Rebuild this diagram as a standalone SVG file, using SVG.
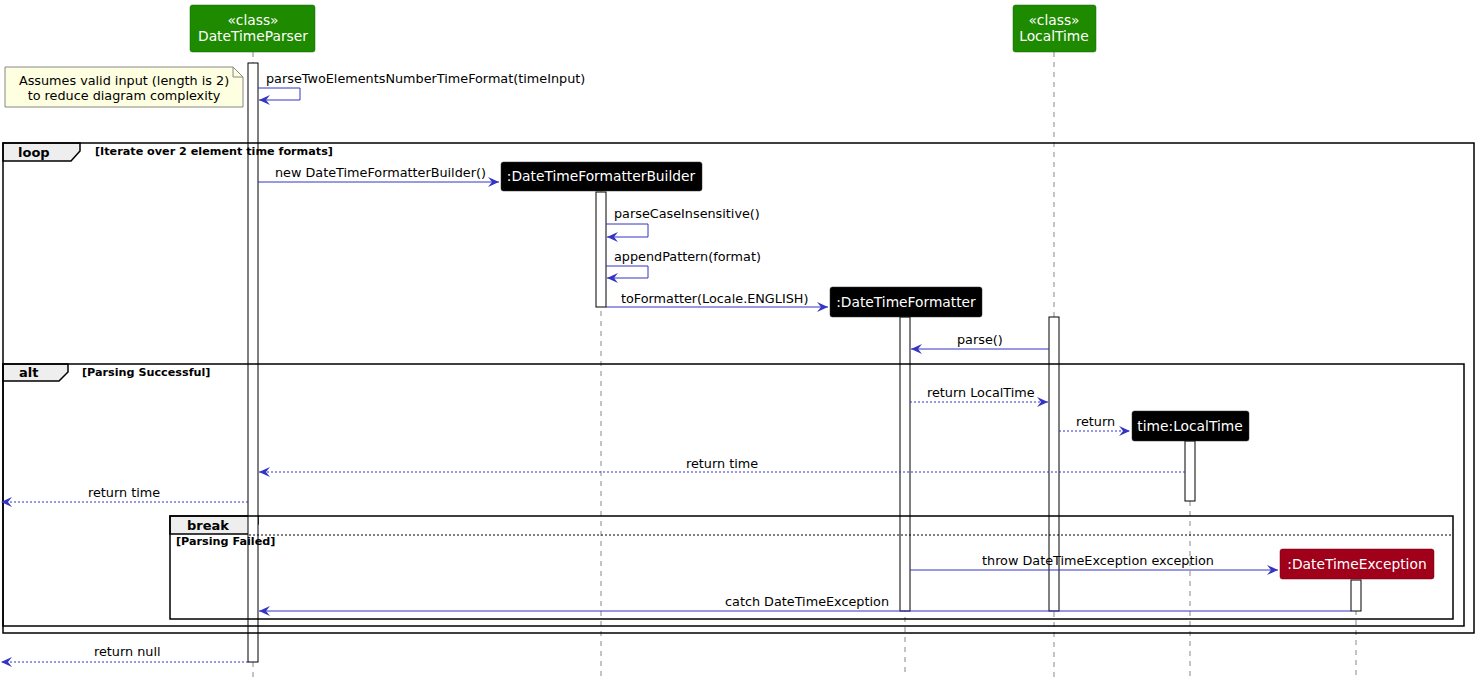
<svg xmlns="http://www.w3.org/2000/svg" width="1479" height="685" viewBox="0 0 1479 685">
<defs>
<style>
text{font-family:"DejaVu Sans","Liberation Sans",sans-serif;}
.msg{font-size:12.8px;fill:#000;}
.pt{font-size:13.8px;fill:#fff;text-anchor:middle;}
.life{stroke:#888;stroke-width:1;stroke-dasharray:5,5;fill:none;}
.act{fill:#fff;stroke:#000;stroke-width:1;}
.frame{fill:none;stroke:#000;stroke-width:1.5;}
.tab{fill:#eee;stroke:#000;stroke-width:1.5;}
.kw{font-size:13px;font-weight:bold;fill:#000;}
.guard{font-size:11.2px;font-weight:bold;fill:#000;}
.arr{stroke:#3535C5;stroke-width:1;fill:none;marker-end:url(#ah);}
.ret{stroke:#3535C5;stroke-width:1;fill:none;stroke-dasharray:2,2;marker-end:url(#ah);}
.cls{fill:#1E8A00;stroke:#156400;stroke-width:0.5;}
.obj{fill:#000;stroke:#333;stroke-width:0.5;}
.exc{fill:#A0001A;stroke:#700012;stroke-width:0.5;}
</style>
<marker id="ah" markerUnits="userSpaceOnUse" markerWidth="14" markerHeight="12" refX="11" refY="5" orient="auto" overflow="visible">
<path d="M0,0 L11,5 L0,10 L4,5 Z" fill="#3535C5"/>
</marker>
</defs>
<rect width="1479" height="685" fill="#fff"/>

<g id="lifelines">
<line class="life" x1="253" y1="52" x2="253" y2="677"/>
<line class="life" x1="601" y1="191" x2="601" y2="677"/>
<line class="life" x1="905" y1="317" x2="905" y2="677"/>
<line class="life" x1="1054" y1="52" x2="1054" y2="677"/>
<line class="life" x1="1190" y1="441" x2="1190" y2="677"/>
<line class="life" x1="1356" y1="580" x2="1356" y2="677"/>
</g>

<g id="frames-tabs">
<path class="tab" d="M3,143 H80 V151 L71,161 H3 Z"/>
<path class="tab" d="M3,364 H68 V372 L59,381 H3 Z"/>
<path class="tab" d="M170,516 H258 V524 L249,534 H170 Z"/>
</g>

<g id="activations">
<rect class="act" x="248" y="63" width="10" height="599"/>
<rect class="act" x="596" y="192" width="10" height="115"/>
<rect class="act" x="900" y="317" width="10" height="294"/>
<rect class="act" x="1049" y="317" width="10" height="294"/>
<rect class="act" x="1185" y="441" width="10" height="60"/>
<rect class="act" x="1351" y="580" width="10" height="31"/>
</g>

<g id="frames">
<rect class="frame" x="3" y="143" width="1471" height="490"/>
<text class="kw" x="18" y="157">loop</text>
<text class="guard" x="95" y="155">[Iterate over 2 element time formats]</text>
<rect class="frame" x="3" y="364" width="1461" height="262"/>
<text class="kw" x="19" y="377">alt</text>
<text class="guard" x="82" y="376">[Parsing Successful]</text>
<rect class="frame" x="170" y="516" width="1283" height="103"/>
<text class="kw" x="187" y="530">break</text>
<line x1="249" y1="535" x2="1453" y2="535" stroke="#000" stroke-width="1" stroke-dasharray="2,2"/>
<text class="guard" x="176" y="545">[Parsing Failed]</text>
</g>

<g id="DateTimeParser">
<rect class="cls" x="190" y="5" width="125" height="47" rx="2.5"/>
<text class="pt" x="253" y="25">«class»</text>
<text class="pt" x="253" y="41">DateTimeParser</text>
</g>

<g id="LocalTime">
<rect class="cls" x="1013" y="5" width="83" height="47" rx="2.5"/>
<text class="pt" x="1054" y="25">«class»</text>
<text class="pt" x="1054" y="41">LocalTime</text>
</g>

<g id="note">
<path d="M5,67 H233 L243,77 V107 H5 Z" fill="#FEFFE0" stroke="#888" stroke-width="1"/>
<path d="M233,67 V77 H243" fill="none" stroke="#888" stroke-width="1"/>
<text class="msg" x="124" y="85" text-anchor="middle">Assumes valid input (length is 2)</text>
<text class="msg" x="124" y="100" text-anchor="middle">to reduce diagram complexity</text>
</g>

<g id="DateTimeFormatterBuilder">
<rect class="obj" x="501" y="162" width="201" height="29" rx="2.5"/>
<text class="pt" x="601" y="181">:DateTimeFormatterBuilder</text>
</g>

<g id="DateTimeFormatter">
<rect class="obj" x="830" y="287" width="152" height="30" rx="2.5"/>
<text class="pt" x="906" y="307">:DateTimeFormatter</text>
</g>

<g id="timeLocalTime">
<rect class="obj" x="1132" y="411" width="117" height="30" rx="2.5"/>
<text class="pt" x="1190" y="431">time:LocalTime</text>
</g>

<g id="DateTimeException">
<rect class="exc" x="1280" y="549" width="154" height="30" rx="2.5"/>
<text class="pt" x="1357" y="569">:DateTimeException</text>
</g>

<g id="connectors">
<text class="msg" x="266" y="83">parseTwoElementsNumberTimeFormat(timeInput)</text>
<path class="arr" d="M258,88 H300 V100 H259"/>

<text class="msg" x="275" y="177">new DateTimeFormatterBuilder()</text>
<line class="arr" x1="258" y1="182" x2="499" y2="182"/>

<text class="msg" x="614" y="218">parseCaseInsensitive()</text>
<path class="arr" d="M606,224 H648 V237 H607"/>

<text class="msg" x="614" y="261">appendPattern(format)</text>
<path class="arr" d="M606,266 H648 V278 H607"/>

<text class="msg" x="621" y="303">toFormatter(Locale.ENGLISH)</text>
<line class="arr" x1="606" y1="307" x2="828" y2="307"/>

<text class="msg" x="957" y="344">parse()</text>
<line class="arr" x1="1049" y1="349" x2="911" y2="349"/>

<text class="msg" x="927" y="397">return LocalTime</text>
<line class="ret" x1="910" y1="402" x2="1048" y2="402"/>

<text class="msg" x="1076" y="426">return</text>
<line class="ret" x1="1059" y1="431" x2="1130" y2="431"/>

<text class="msg" x="722" y="468" text-anchor="middle">return time</text>
<line class="ret" x1="1185" y1="472" x2="259" y2="472"/>

<text class="msg" x="88" y="497">return time</text>
<line class="ret" x1="248" y1="502" x2="1" y2="502"/>

<text class="msg" x="982" y="565">throw DateTimeException exception</text>
<line class="arr" x1="910" y1="570" x2="1278" y2="570"/>

<text class="msg" x="889" y="606" text-anchor="end">catch DateTimeException</text>
<line class="arr" x1="1351" y1="611" x2="259" y2="611"/>

<text class="msg" x="94" y="656">return null</text>
<line class="ret" x1="248" y1="662" x2="1" y2="662"/>
</g>
</svg>
